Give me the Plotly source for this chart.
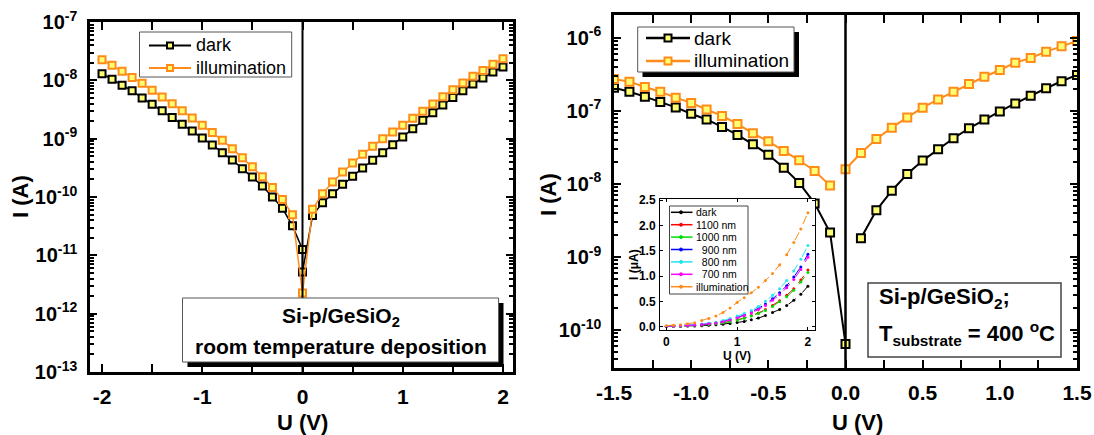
import plotly.graph_objects as go

W, H = 1094, 435
def px(x): return x / W
def py(y): return 1 - y / H

FONT = "Liberation Sans, Arial, sans-serif"
ORANGE = "#ff8c1a"
FILL = "#ffff73"

# ---------------- data: left panel (room temperature deposition) ----------------
u_left = [-2.0, -1.9, -1.8, -1.7, -1.6, -1.5, -1.4, -1.3, -1.2, -1.1, -1.0,
          -0.9, -0.8, -0.7, -0.6, -0.5, -0.4, -0.3, -0.2, -0.1, 0.0,
          0.1, 0.2, 0.3, 0.4, 0.5, 0.6, 0.7, 0.8, 0.9, 1.0,
          1.1, 1.2, 1.3, 1.4, 1.5, 1.6, 1.7, 1.8, 1.9, 2.0]
u_left_dark = [-2.0, -1.9, -1.8, -1.7, -1.6, -1.5, -1.4, -1.3, -1.2, -1.1, -1.0,
               -0.9, -0.8, -0.7, -0.6, -0.5, -0.4, -0.3, -0.2, -0.1, 0.0, 0.0,
               0.1, 0.2, 0.3, 0.4, 0.5, 0.6, 0.7, 0.8, 0.9, 1.0,
               1.1, 1.2, 1.3, 1.4, 1.5, 1.6, 1.7, 1.8, 1.9, 2.0]
i_dark_left = [1.3e-8, 1.04e-8, 8.2e-9, 6.6e-9, 5.0e-9, 3.9e-9, 3.0e-9, 2.3e-9, 1.76e-9, 1.35e-9, 1.03e-9,
               7.8e-10, 5.75e-10, 4.3e-10, 3.06e-10, 2.2e-10, 1.55e-10, 1.0e-10, 6.4e-11, 3.2e-11, 1.26e-11, 5.2e-12,
               4.8e-11, 8.0e-11, 1.14e-10, 1.65e-10, 2.26e-10, 3.14e-10, 4.25e-10, 5.75e-10, 7.9e-10, 1.07e-9,
               1.48e-9, 2.06e-9, 2.79e-9, 3.78e-9, 5.1e-9, 6.65e-9, 8.65e-9, 1.1e-8, 1.39e-8, 1.69e-8]
i_illum_left = [2.26e-8, 1.81e-8, 1.43e-8, 1.12e-8, 8.9e-9, 6.74e-9, 5.18e-9, 3.98e-9, 3.02e-9, 2.26e-9, 1.69e-9,
                1.27e-9, 9.36e-10, 6.74e-10, 4.72e-10, 3.31e-10, 2.23e-10, 1.46e-10, 9.1e-11, 4.97e-11, 2.26e-12,
                6.15e-11, 1.14e-10, 1.81e-10, 2.68e-10, 3.83e-10, 5.39e-10, 7.39e-10, 1.0e-9, 1.3e-9, 1.69e-9,
                2.23e-9, 2.94e-9, 3.93e-9, 5.25e-9, 6.92e-9, 9.0e-9, 1.17e-8, 1.48e-8, 1.88e-8, 2.35e-8]

# ---------------- data: right panel (T_substrate = 400 C) ----------------
u_right = [-1.5, -1.4, -1.3, -1.2, -1.1, -1.0, -0.9, -0.8, -0.7, -0.6, -0.5, -0.4, -0.3, -0.2, -0.1, 0.0,
           0.1, 0.2, 0.3, 0.4, 0.5, 0.6, 0.7, 0.8, 0.9, 1.0, 1.1, 1.2, 1.3, 1.4, 1.5]
i_dark_right = [2.07e-7, 1.82e-7, 1.56e-7, 1.32e-7, 1.11e-7, 9.1e-8, 7.6e-8, 6.0e-8, 4.66e-8, 3.47e-8,
                2.5e-8, 1.66e-8, 1.03e-8, 5.4e-9, 2.15e-9, 6.45e-11,
                1.8e-9, 4.34e-9, 8.05e-9, 1.36e-8, 2.08e-8, 2.97e-8, 4.2e-8, 5.75e-8, 7.6e-8, 9.8e-8,
                1.26e-7, 1.61e-7, 2.03e-7, 2.53e-7, 3.09e-7]
i_illum_right = [2.71e-7, 2.5e-7, 2.11e-7, 1.82e-7, 1.51e-7, 1.28e-7, 1.04e-7, 8.5e-8, 6.59e-8, 4.91e-8,
                 3.82e-8, 2.81e-8, 2.1e-8, 1.5e-8, 9.45e-9, 1.58e-8,
                 2.64e-8, 4.1e-8, 5.87e-8, 8.1e-8, 1.1e-7, 1.43e-7, 1.82e-7, 2.32e-7, 2.92e-7, 3.61e-7,
                 4.55e-7, 5.27e-7, 6.43e-7, 7.6e-7, 9.0e-7]

# ---------------- data: inset (linear, micro-amperes) ----------------
u_inset = [0.0, 0.1, 0.2, 0.3, 0.4, 0.5, 0.6, 0.7, 0.8, 0.9, 1.0,
           1.1, 1.2, 1.3, 1.4, 1.5, 1.6, 1.7, 1.8, 1.9, 2.0]
inset_names = ["dark", "1100 nm", "1000 nm", "\u2007900 nm", "\u2007800 nm", "\u2007700 nm", "illumination"]
inset_colors = ["#000000", "#ff0000", "#00dd00", "#0000ff", "#22e5f0", "#ff00ff", ORANGE]
inset_dark = [0.005, 0.007, 0.009, 0.012, 0.016, 0.021, 0.028, 0.037, 0.049, 0.064, 0.083,
              0.105, 0.135, 0.17, 0.22, 0.28, 0.34, 0.42, 0.52, 0.64, 0.8]
inset_1100 = [0.008, 0.01, 0.014, 0.019, 0.026, 0.035, 0.046, 0.06, 0.08, 0.105, 0.135,
              0.17, 0.22, 0.27, 0.34, 0.42, 0.51, 0.62, 0.75, 0.92, 1.12]
inset_1000 = [0.008, 0.01, 0.013, 0.018, 0.025, 0.033, 0.044, 0.058, 0.076, 0.1, 0.13,
              0.165, 0.21, 0.26, 0.32, 0.40, 0.49, 0.59, 0.72, 0.88, 1.07]
inset_900 = [0.01, 0.013, 0.018, 0.025, 0.034, 0.045, 0.06, 0.08, 0.105, 0.14, 0.18,
             0.23, 0.29, 0.36, 0.45, 0.55, 0.67, 0.81, 0.98, 1.18, 1.43]
inset_800 = [0.01, 0.015, 0.02, 0.03, 0.04, 0.055, 0.07, 0.09, 0.12, 0.16, 0.21,
             0.26, 0.32, 0.40, 0.50, 0.62, 0.75, 0.91, 1.1, 1.33, 1.6]
inset_700 = [0.01, 0.012, 0.017, 0.023, 0.032, 0.043, 0.057, 0.075, 0.1, 0.13, 0.17,
             0.22, 0.27, 0.34, 0.42, 0.52, 0.63, 0.77, 0.93, 1.13, 1.37]
inset_illum = [0.02, 0.03, 0.04, 0.06, 0.08, 0.12, 0.16, 0.21, 0.28, 0.37, 0.48,
               0.57, 0.67, 0.78, 0.91, 1.05, 1.22, 1.42, 1.66, 1.93, 2.25]
inset_series = [inset_dark, inset_1100, inset_1000, inset_900, inset_800, inset_700, inset_illum]

main_names = ["dark", "illumination"]
main_colors = ["black", ORANGE]

log_ticks_left = [1e-13, 1e-12, 1e-11, 1e-10, 1e-9, 1e-8, 1e-7]
log_ticks_right = [1e-10, 1e-9, 1e-8, 1e-7, 1e-6]

# ---------------- figure ----------------
fig = go.Figure()

def sq_marker(color, size):
    return dict(symbol="square", size=size, color=FILL, line=dict(color=color, width=2))

# left panel
fig.add_trace(go.Scatter(x=u_left_dark, y=i_dark_left, mode="lines+markers", name="dark",
                         line=dict(color="black", width=1.5), marker=sq_marker("black", 7),
                         xaxis="x", yaxis="y"))
fig.add_trace(go.Scatter(x=u_left, y=i_illum_left, mode="lines+markers", name="illumination",
                         line=dict(color=ORANGE, width=1.5), marker=sq_marker(ORANGE, 7),
                         xaxis="x", yaxis="y"))

# right panel (lines are broken around 0 V)
i0 = u_right.index(0.0)
segments = [(u_right[:i0 + 1], i_dark_right[:i0 + 1], "dark", "black"),
            (u_right[i0 + 1:], i_dark_right[i0 + 1:], "dark", "black"),
            (u_right[:i0], i_illum_right[:i0], "illumination", ORANGE),
            (u_right[i0:], i_illum_right[i0:], "illumination", ORANGE)]
for xs, ys, nm, col in segments:
    fig.add_trace(go.Scatter(x=xs, y=ys, mode="lines+markers", name=nm,
                             line=dict(color=col, width=2), marker=sq_marker(col, 8),
                             xaxis="x2", yaxis="y2"))

# inset
for name, col, vals in zip(inset_names, inset_colors, inset_series):
    fig.add_trace(go.Scatter(x=u_inset, y=vals, mode="lines+markers", name=name,
                             line=dict(color=col, width=1, dash="dash"),
                             marker=dict(symbol="circle", size=3, color=col),
                             xaxis="x3", yaxis="y3"))

tickfont_big = dict(family=FONT, size=20, color="black", weight="bold")
tickfont_x = dict(family=FONT, size=21, color="black", weight="bold")
tickfont_small = dict(family=FONT, size=12, color="black", weight="bold")

def minor_log(lo, hi):
    vals = []
    for e in range(lo, hi):
        for k in range(2, 10):
            vals.append(k * 10.0 ** e)
    return vals

common_axis = dict(showline=True, linecolor="black", linewidth=2.5, mirror="allticks",
                   ticks="inside", tickcolor="black", showgrid=False, zeroline=False, automargin=False)

fig.update_layout(
    width=W, height=H, margin=dict(l=0, r=0, t=0, b=0, pad=0, autoexpand=False),
    paper_bgcolor="white", plot_bgcolor="white", showlegend=False,
    font=dict(family=FONT, color="black"),
    xaxis=dict(domain=[px(90), px(513)], range=[-2.12, 2.1], anchor="y",
               tickvals=[-2, -1, 0, 1, 2], ticktext=["-2", "-1", "0", "1", "2"],
               ticklen=8, tickwidth=2, tickfont=tickfont_x, ticklabelstandoff=4,
               minor=dict(tickvals=[-1.5, -0.5, 0.5, 1.5], ticklen=8, tickwidth=2, ticks="inside",
                          tickcolor="black"),
               **common_axis),
    yaxis=dict(domain=[py(372), py(22)], type="log", range=[-13, -7], anchor="x",
               tickvals=log_ticks_left,
               ticktext=["10<sup>-13</sup>", "10<sup>-12</sup>", "10<sup>-11</sup>", "10<sup>-10</sup>",
                         "10<sup>-9</sup>", "10<sup>-8</sup>", "10<sup>-7</sup>"],
               ticklen=7, tickwidth=2, tickfont=tickfont_big, ticklabelstandoff=6,
               minor=dict(tickvals=minor_log(-13, -7), ticklen=4, tickwidth=1.5, ticks="inside",
                          tickcolor="black"),
               **common_axis),
    xaxis2=dict(domain=[px(614), px(1077)], range=[-1.5, 1.5], anchor="y2",
                tickvals=[-1.5, -1.0, -0.5, 0.0, 0.5, 1.0, 1.5],
                ticktext=["-1.5", "-1.0", "-0.5", "0.0", "0.5", "1.0", "1.5"],
                ticklen=8, tickwidth=2, tickfont=tickfont_x, ticklabelstandoff=4,
                minor=dict(tickvals=[-1.25, -0.75, -0.25, 0.25, 0.75, 1.25], ticklen=8, tickwidth=2,
                           ticks="inside", tickcolor="black"),
                **common_axis),
    yaxis2=dict(domain=[py(368), py(15)], type="log", range=[-10.52, -5.69], anchor="x2",
                tickvals=log_ticks_right,
                ticktext=["10<sup>-10</sup>", "10<sup>-9</sup>", "10<sup>-8</sup>", "10<sup>-7</sup>",
                          "10<sup>-6</sup>"],
                ticklen=7, tickwidth=2, tickfont=tickfont_big, ticklabelstandoff=6,
                minor=dict(tickvals=minor_log(-11, -5), ticklen=4, tickwidth=1.5, ticks="inside",
                           tickcolor="black"),
                **common_axis),
    xaxis3=dict(domain=[px(660), px(815)], range=[-0.09, 2.1], anchor="y3",
                tickvals=[0, 1, 2], ticktext=["0", "1", "2"], ticklen=3, tickwidth=1,
                tickfont=tickfont_small, ticklabelstandoff=1,
                showline=True, linecolor="black", linewidth=1, mirror="allticks",
                ticks="inside", tickcolor="black", showgrid=False, zeroline=False, automargin=False),
    yaxis3=dict(domain=[py(330), py(199)], range=[-0.065, 2.52], anchor="x3",
                tickvals=[0, 0.5, 1.0, 1.5, 2.0, 2.5], ticktext=["0.0", "0.5", "1.0", "1.5", "2.0", "2.5"],
                ticklen=3, tickwidth=1, tickfont=tickfont_small, ticklabelstandoff=1,
                showline=True, linecolor="black", linewidth=1, mirror="allticks",
                ticks="inside", tickcolor="black", showgrid=False, zeroline=False, automargin=False),
)

shapes = []
annotations = []
def rect(x0, y0, x1, y1, fill, lc=None, lw=0):
    shapes.append(dict(type="rect", xref="paper", yref="paper", x0=px(x0), x1=px(x1), y0=py(y1), y1=py(y0),
                       line=dict(color=lc or fill, width=lw), fillcolor=fill, layer="above"))

# vertical lines at U = 0
shapes.append(dict(type="line", xref="x", yref="y domain", x0=0, x1=0, y0=0, y1=1,
                   line=dict(color="black", width=2), layer="above"))
shapes.append(dict(type="line", xref="x2", yref="y2 domain", x0=0, x1=0, y0=0, y1=1,
                   line=dict(color="black", width=2.5), layer="above"))

# legend boxes
rect(139.5, 32, 291.7, 77, "white", "#555555", 1)                 # left legend
rect(642.5, 32, 799, 77, "black")                                  # right legend shadow
rect(637.7, 27, 794, 72, "white", "#555555", 1)                   # right legend
rect(187.5, 303, 503.5, 367, "black")                              # left text box shadow
rect(182.5, 298, 498.6, 362, "white", "#555555", 1)               # left text box
rect(868, 283, 1061, 357, "white", "#444444", 1.5)                # right text box
rect(669.5, 206, 748, 294, "white", "#444444", 1)                 # inset legend

# main legends (symbol line + square marker + label)
def legend_entry(xl0, xl1, yy, col, label, size, sq, lw, xt):
    shapes.append(dict(type="line", xref="paper", yref="paper", x0=px(xl0), x1=px(xl1), y0=py(yy), y1=py(yy),
                       line=dict(color=col, width=lw), layer="above"))
    xc = (xl0 + xl1) / 2
    rect(xc - sq / 2, yy - sq / 2, xc + sq / 2, yy + sq / 2, FILL, col, 2)
    annotations.append(dict(x=px(xt), y=py(yy), text=label, xanchor="left", yanchor="middle",
                            font=dict(family=FONT, size=size, color="black")))

for k, (nm, col) in enumerate(zip(main_names, main_colors)):
    legend_entry(149, 191, 45.5 + k * 22.5, col, nm, 18, 6, 2, 194)
    legend_entry(646, 690, 38 + k * 23, col, nm, 19, 7, 2.5, 692)

# inset legend entries
for k, (name, col) in enumerate(zip(inset_names, inset_colors)):
    yy = 212.3 + k * 12.4
    shapes.append(dict(type="line", xref="paper", yref="paper", x0=px(671), x1=px(692.5), y0=py(yy), y1=py(yy),
                       line=dict(color=col, width=1.5), layer="above"))
    shapes.append(dict(type="circle", xref="paper", yref="paper", x0=px(679.5), x1=px(682.5),
                       y0=py(yy + 1.5), y1=py(yy - 1.5), line=dict(color=col, width=1), fillcolor=col,
                       layer="above"))
    annotations.append(dict(x=px(694), y=py(yy), text=name, xanchor="left", yanchor="middle",
                            font=dict(family=FONT, size=10.5, color="black")))

bold = dict(family=FONT, color="black", weight="bold")
annotations += [
    dict(x=px(20), y=py(197), text="I (A)", textangle=-90, font=dict(size=22, **bold)),
    dict(x=px(302), y=py(422), text="U (V)", font=dict(size=22, **bold)),
    dict(x=px(548), y=py(195), text="I (A)", textangle=-90, font=dict(size=22, **bold)),
    dict(x=px(857), y=py(422), text="U (V)", font=dict(size=22, **bold)),
    dict(x=px(634), y=py(265), text="I (\u03bcA)", textangle=-90, font=dict(size=12, **bold)),
    dict(x=px(737), y=py(356), text="U (V)", font=dict(size=12, **bold)),
    dict(x=px(340.5), y=py(316.5), text="Si-p/GeSiO<sub>2</sub>", font=dict(size=21, **bold)),
    dict(x=px(340.5), y=py(346.5), text="room temperature deposition", font=dict(size=21, **bold)),
    dict(x=px(877), y=py(298), text="Si-p/GeSiO<sub>2</sub>;", xanchor="left", font=dict(size=22, **bold)),
    dict(x=px(877), y=py(333), text="T<sub>substrate</sub> = 400 <sup>o</sup>C", xanchor="left",
         font=dict(size=22, **bold)),
]
for a in annotations:
    a.setdefault("xref", "paper")
    a.setdefault("yref", "paper")
    a.setdefault("showarrow", False)
    a.setdefault("xanchor", "center")
    a.setdefault("yanchor", "middle")

fig.update_layout(shapes=shapes, annotations=annotations)
fig.write_html("out.html")
